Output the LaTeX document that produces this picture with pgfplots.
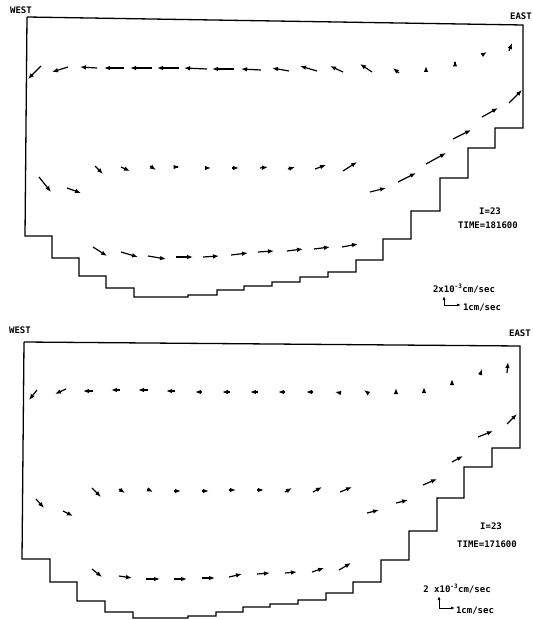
\documentclass[border=0pt]{standalone}
\usepackage{pgfplots}
\pgfplotsset{compat=1.18}
\usepackage{fontspec}
\setmainfont{DejaVu Sans Mono}
\usetikzlibrary{arrows.meta}
\begin{document}
\begin{tikzpicture}
\begin{axis}[
  scale only axis, width=532pt, height=620pt,
  xmin=0, xmax=532, ymin=0, ymax=620, y dir=reverse,
  hide axis, clip=false,
  vec/.style={black, line width=1.2pt, -{Latex[length=6pt,width=4.6pt]},
    quiver={u=\thisrow{u}, v=\thisrow{v}}},
]
\path (axis cs:0,0) rectangle (axis cs:532,620);
% ---------- top panel outline ----------
\addplot[black, line width=1.3pt, sharp plot] coordinates {
(27,17) (523,25) (523,128) (495,128) (495,148) (468,148) (468,178) (440,178)
(440,211) (411,211) (411,239) (383,239) (383,260) (356,260) (356,272) (328,272)
(328,277) (300,277) (300,282) (272,282) (272,286) (244,286) (244,290) (217,290)
(217,295) (188,295) (188,297) (134,297) (134,288) (106,288) (106,276) (79,276)
(79,258) (52,258) (52,236) (25,236) (27,17)};
% ---------- bottom panel outline ----------
\addplot[black, line width=1.3pt, sharp plot] coordinates {
(24,342) (520,346) (520,448) (492,448) (492,467) (464,467) (464,498) (437,498)
(437,531) (409,531) (409,560) (381,560) (381,582) (353,582) (353,593) (326,593)
(326,600) (298,600) (298,604) (270,604) (270,607) (243,607) (243,612) (216,612)
(216,616) (188,616) (188,618) (133,618) (133,612) (105,612) (105,601) (77,601)
(77,582) (50,582) (50,559) (22,559) (24,342)};
% ---------- top panel vectors ----------
\addplot[vec] table {
x y u v
41 66 -13 13
68 67 -16 5
97 68 -17 -1
124 68 -20 0
152 68 -22 0
179 68 -22 0
207 69 -23 -1
234 69 -22 0
261 70 -20 -1
289 71 -17 -3
317 71 -17 -5
343 72 -13 -6
372 72 -12 -8
399 73 -6 -5
426 71 0 -5
455 62 0 -1.5
482 55 5 -3
509 51 3 -8
};
\addplot[vec] table {
x y u v
39 177 12 15
67 188 14 5
95 166 8 8
121 167 9 4
150 166 6 4
178 167 1.5 0
205 168 6 0
232 168 7 0
260 168 8 -1
288 169 7 -2
315 169 11 -4
343 171 14 -9
370 192 16 -4
398 182 18 -9
426 164 20 -11
453 139 18 -9
482 117 16 -9
509 103 13 -13
};
\addplot[vec] table {
x y u v
93 247 14 9
121 252 17 5
148 256 18 3
176 257 17 0
203 257 16 -1
231 255 17 -2
258 252 16 -1
287 251 16 -2
314 249 16 -2
342 247 16 -3
};
% ---------- bottom panel vectors ----------
\addplot[vec] table {
x y u v
37 390 -8 10
66 389 -11 5
93 391 -10 0
120 390 -9 0
148 390 -10 0
175 391 -9 0
202 392 -7 0
230 392 -8 0
258 392 -8 0
285 392 -7 0
313 392 -7 0
341 393 -6 -1
368 393 -4 -3
396 394 0 -6
424 392 0 -5
452 383 0 -4
480 375 2 -6
507 373 1 -11
};
\addplot[vec] table {
x y u v
36 499 8 9
63 511 10 5
92 488 9 9
119 489 6 4
147 489 6 3
174 491 7 0
202 491 7 0
229 490 7 0
257 490 7 0
285 492 7 -4
313 492 9 -5
340 492 12 -5
367 513 12 -3
396 503 12 -3
423 485 14 -6
452 462 11 -6
478 437 15 -6
507 424 10 -10
};
\addplot[vec] table {
x y u v
92 569 10 8
119 576 13 2
146 579 14 0
174 579 13 0
202 578 13 0
229 577 13 -3
257 574 13 -1
285 573 12 -1
312 572 12 -4
339 570 12 -7
};
% ---------- scale legends ----------
\addplot[black, line width=0.8pt, -{Latex[length=4pt,width=3pt]}] coordinates {(444,305) (444,296)};
\addplot[black, line width=0.8pt, -{Latex[length=4pt,width=3pt]}] coordinates {(444,305) (461,305)};
\addplot[black, line width=0.8pt, -{Latex[length=4pt,width=3pt]}] coordinates {(439,608) (439,596)};
\addplot[black, line width=0.8pt, -{Latex[length=4pt,width=3pt]}] coordinates {(439,608) (455,608)};
% ---------- texts ----------
\begin{scope}[every node/.style={font=\fontsize{9}{10}\selectfont\bfseries, inner sep=0pt}]
\node at (axis cs:21,10) {WEST};
\node[anchor=east] at (axis cs:532,16) {EAST};
\node at (axis cs:490,211) {I=23};
\node at (axis cs:488,225) {TIME=181600};
\node at (axis cs:464,289) {2x10\textsuperscript{-3}cm/sec};
\node at (axis cs:482,308) {1cm/sec};
\node at (axis cs:20,330) {WEST};
\node[anchor=east] at (axis cs:531,333) {EAST};
\node at (axis cs:491,526) {I=23};
\node at (axis cs:487,544) {TIME=171600};
\node at (axis cs:457,589) {2 x10\textsuperscript{-3}cm/sec};
\node at (axis cs:475,611) {1cm/sec};
\end{scope}
\end{axis}
\end{tikzpicture}
\end{document}
